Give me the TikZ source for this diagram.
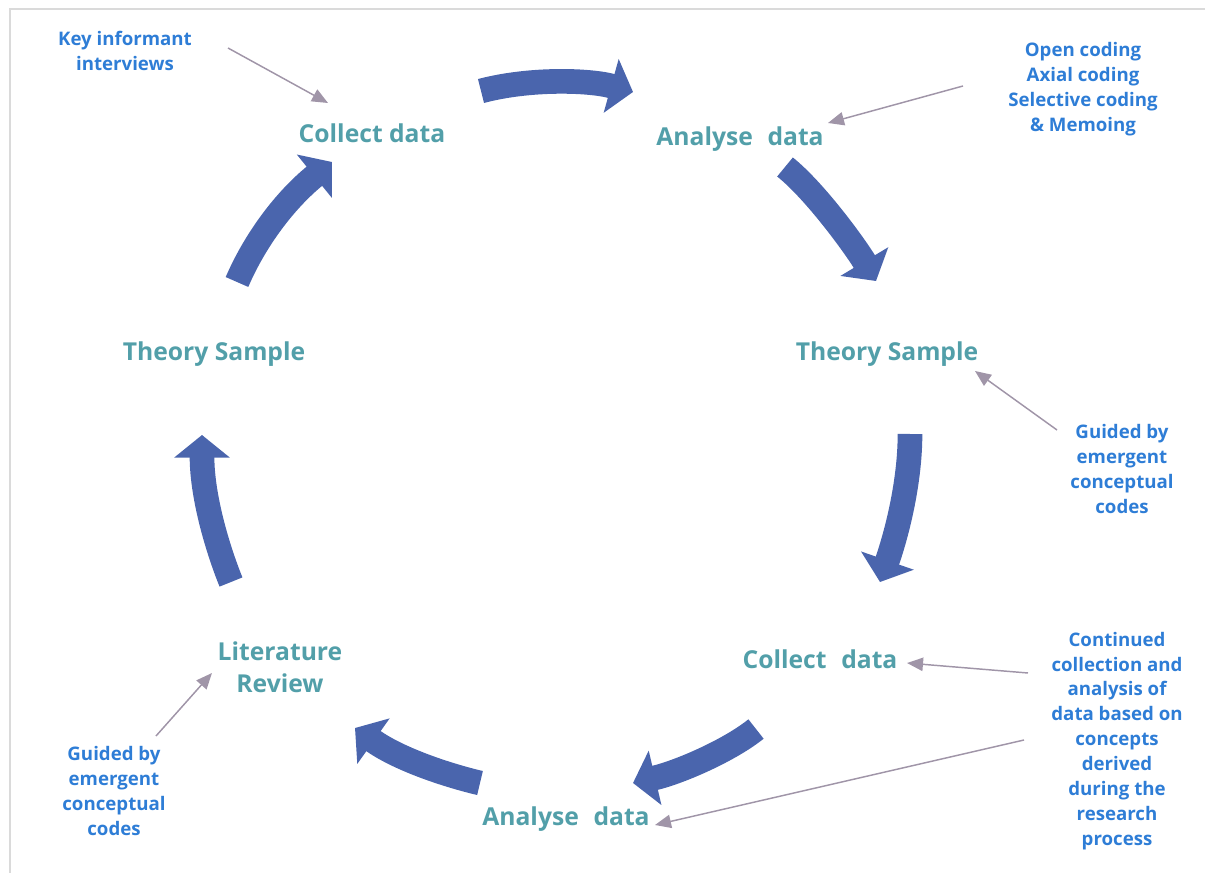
\documentclass[tikz,border=0pt]{standalone}
\usepackage{fontspec}
\setmainfont{Open Sans}
\usetikzlibrary{arrows.meta}
\definecolor{mainteal}{HTML}{529FA9}
\definecolor{noteblue}{HTML}{2E7DD6}
\definecolor{cycblue}{HTML}{4A65AD}
\definecolor{ptrgray}{HTML}{A095A8}
\definecolor{framegray}{HTML}{DADADA}
\begin{document}
\begin{tikzpicture}[x=0.75pt,y=-0.75pt,
  main/.style={font=\fontsize{18.5}{24}\selectfont\bfseries, text=mainteal, align=center, inner sep=0pt},
  note/.style={font=\fontsize{14}{18.7}\selectfont\bfseries, text=noteblue, align=center, inner sep=0pt},
  cyc/.style={draw=cycblue, line width=18.5pt, -{Triangle[length=17pt,width=41pt]}},
  ptr/.style={draw=ptrgray, line width=1.1pt, -{Triangle[length=12pt,width=10pt]}}]
\useasboundingbox (0,0) rectangle (1205,873);
\draw[framegray, line width=1.5pt] (10,873) -- (10,9) -- (1205,9);

% main labels
\node[main] (cd1) at (372,133) {Collect data};
\node[main] (ad1) at (740,139) {Analyse\,\, data};
\node[main] (ts1) at (887,354) {Theory Sample};
\node[main] (cd2) at (820,659) {Collect\,\, data};
\node[main] (ad2) at (566,819) {Analyse\,\, data};
\node[main] (lr) at (280,667) {Literature\\Review};
\node[main] (ts2) at (214,354) {Theory Sample};

% notes
\node[note] (n1) at (125,51) {Key informant\\interviews};
\node[note] (n2) at (1083,89) {Open coding\\Axial coding\\Selective coding\\\& Memoing};
\node[note] (n3) at (1122,469) {Guided by\\emergent\\conceptual\\codes};
\node[note] (n4) at (114,791) {Guided by\\emergent\\conceptual\\codes};
\node[note] (n5) at (1117,741) {Continued\\collection and\\analysis of\\data based on\\concepts\\derived\\during the\\research\\process};

% cycle arrow coordinates
\coordinate (a1s) at (481,91);   \coordinate (a1e) at (633,92);
\coordinate (a2s) at (785,167);  \coordinate (a2e) at (876,281);
\coordinate (a3s) at (910,434);  \coordinate (a3e) at (880,582);
\coordinate (a4s) at (756,729);  \coordinate (a4e) at (633,783);
\coordinate (a5s) at (480,783);  \coordinate (a5e) at (355,728);
\coordinate (a6s) at (231,582);  \coordinate (a6e) at (202,435);
\coordinate (a7s) at (237,282);  \coordinate (a7e) at (332,162);

\draw[cyc] (a1s) .. controls (530,78) and (590,80) .. (a1e);
\draw[cyc] (a2s) .. controls (815,191) and (855,246) .. (a2e);
\draw[cyc] (a3s) .. controls (910,480) and (898,530) .. (a3e);
\draw[cyc] (a4s) .. controls (730,750) and (680,772) .. (a4e);
\draw[cyc] (a5s) .. controls (450,776) and (400,760) .. (a5e);
\draw[cyc] (a6s) .. controls (220,555) and (202,500) .. (a6e);
\draw[cyc] (a7s) .. controls (255,240) and (285,200) .. (a7e);

% pointer coordinates
\coordinate (p1s) at (228,48);   \coordinate (p1e) at (328,103);
\coordinate (p2s) at (963,86);   \coordinate (p2e) at (828,123);
\coordinate (p3s) at (1057,430); \coordinate (p3e) at (975,371);
\coordinate (p4s) at (1028,673); \coordinate (p4e) at (907,663);
\coordinate (p5s) at (1024,740); \coordinate (p5e) at (655,825);
\coordinate (p6s) at (156,736);  \coordinate (p6e) at (212,673);

\draw[ptr] (p1s) -- (p1e);
\draw[ptr] (p2s) -- (p2e);
\draw[ptr] (p3s) -- (p3e);
\draw[ptr] (p4s) -- (p4e);
\draw[ptr] (p5s) -- (p5e);
\draw[ptr] (p6s) -- (p6e);
\end{tikzpicture}
\end{document}
